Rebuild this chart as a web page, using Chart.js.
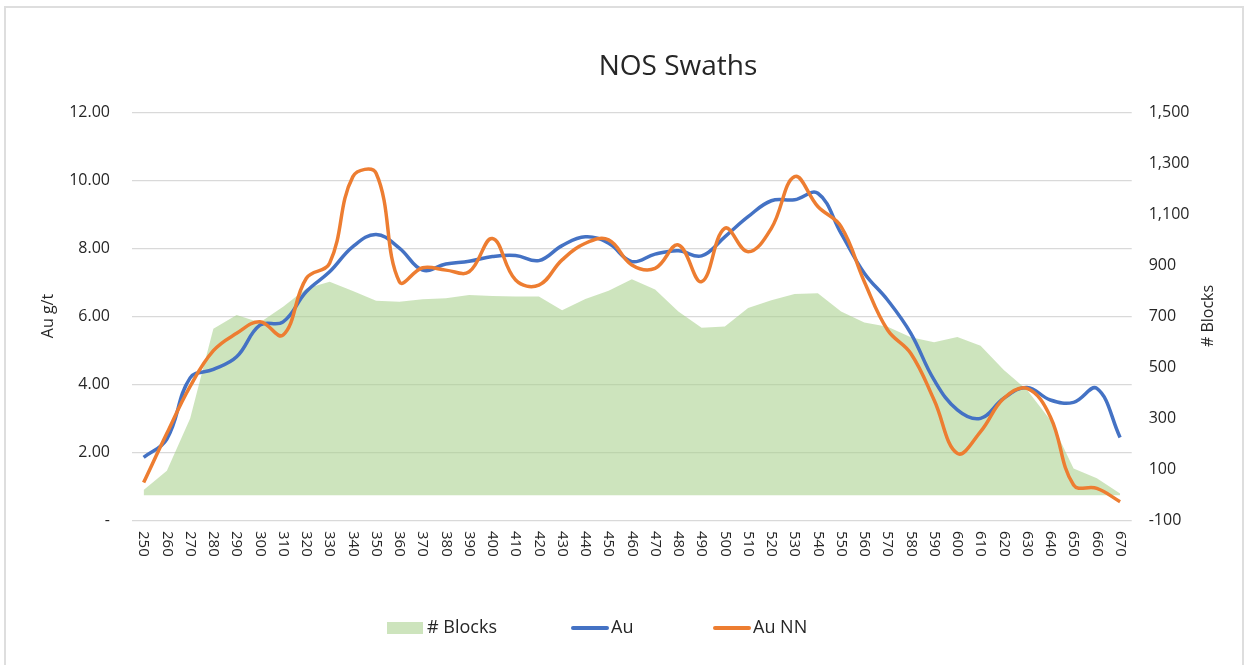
<!DOCTYPE html>
<html>
<head>
<meta charset="utf-8">
<script src="https://cdn.jsdelivr.net/npm/chart.js@4.4.0/dist/chart.umd.min.js"></script>
<style>
    body { margin:0; background:#fff; overflow:hidden; }
    .frame { position:absolute; left:4px; top:6px; width:1240px; height:700px; border:2px solid #dedede; box-sizing:border-box; }
    .wrap { position:absolute; left:0; top:0; width:1249px; height:665px; }
</style>
</head>
<body>
<div class="frame"></div>
<div class="wrap"><canvas id="swathChart"></canvas></div>
<script>
// ── Data ──
const categories = ['250','260','270','280','290','300','310','320','330','340','350','360','370','380','390','400','410','420','430','440','450','460','470','480','490','500','510','520','530','540','550','560','570','580','590','600','610','620','630','640','650','660','670'];
const blocks = [20, 96, 301, 653, 707, 677, 739, 811, 837, 801, 763, 759, 768, 772, 785, 781, 779, 779, 725, 769, 802, 847, 807, 720, 657, 662, 734, 765, 789, 792, 720, 677, 661, 619, 600, 620, 586, 491, 413, 295, 105, 66, 7];
const au = [1.86, 2.4, 4.2, 4.45, 4.82, 5.75, 5.85, 6.74, 7.32, 8.06, 8.42, 8.02, 7.37, 7.55, 7.63, 7.77, 7.8, 7.65, 8.09, 8.35, 8.16, 7.62, 7.84, 7.94, 7.79, 8.35, 8.94, 9.41, 9.44, 9.63, 8.45, 7.28, 6.49, 5.51, 4.14, 3.26, 3.01, 3.6, 3.92, 3.55, 3.48, 3.89, 2.45];
const auNN = [1.12, 2.57, 3.95, 5.0, 5.51, 5.85, 5.46, 7.13, 7.57, 10.12, 10.22, 7.03, 7.44, 7.37, 7.32, 8.3, 7.08, 6.93, 7.67, 8.16, 8.26, 7.52, 7.42, 8.11, 7.03, 8.6, 7.91, 8.6, 10.12, 9.24, 8.65, 7.03, 5.61, 4.92, 3.55, 1.98, 2.62, 3.6, 3.89, 3.06, 1.05, 0.95, 0.56];
const leftTicks = [0, 2, 4, 6, 8, 10, 12];
const rightTicks = [-100, 100, 300, 500, 700, 900, 1100, 1300, 1500];

const FONT = '"Open Sans", "DejaVu Sans", sans-serif';
const TEXT = '#262626';
const BLOCK_FILL = 'rgba(169,209,142,0.58)';
const AU_BLUE = '#4472c4';
const AU_ORANGE = '#ed7d31';

// ── Text that Chart.js can't place like Excel does ──
const excelText = {
    id: 'excelText',
    afterDraw(chart) {
        const { ctx, scales: { x } } = chart;
        ctx.save();
        ctx.fillStyle = TEXT;

        // title
        ctx.font = `28px ${FONT}`;
        ctx.textAlign = 'center';
        ctx.textBaseline = 'middle';
        ctx.fillText('NOS Swaths', 678, 67);

        // category labels, reading top to bottom
        ctx.font = `15px ${FONT}`;
        ctx.textAlign = 'left';
        categories.forEach((lab, i) => {
            ctx.save();
            ctx.translate(x.getPixelForValue(i), 531);
            ctx.rotate(Math.PI / 2);
            ctx.fillText(lab, 0, 0);
            ctx.restore();
        });

        // axis titles
        ctx.font = `16px ${FONT}`;
        ctx.textAlign = 'center';
        [['Au g/t', 48], ['# Blocks', 1208]].forEach(([t, px]) => {
            ctx.save();
            ctx.translate(px, 316);
            ctx.rotate(-Math.PI / 2);
            ctx.fillText(t, 0, 0);
            ctx.restore();
        });

        // legend
        ctx.font = `18px ${FONT}`;
        ctx.textAlign = 'left';
        ctx.fillStyle = BLOCK_FILL;
        ctx.fillRect(387, 622, 36, 12);
        ctx.lineWidth = 4;
        ctx.lineCap = 'round';
        [[AU_BLUE, 573, 607], [AU_ORANGE, 715, 749]].forEach(([c, a, b]) => {
            ctx.strokeStyle = c;
            ctx.beginPath();
            ctx.moveTo(a, 628);
            ctx.lineTo(b, 628);
            ctx.stroke();
        });
        ctx.fillStyle = TEXT;
        ctx.fillText('# Blocks', 427, 628);
        ctx.fillText('Au', 611, 628);
        ctx.fillText('Au NN', 753, 628);
        ctx.restore();
    }
};

const ctx = document.getElementById('swathChart').getContext('2d');
new Chart(ctx, {
    type: 'line',
    data: {
        labels: categories,
        datasets: [
            {
                label: '# Blocks',
                data: blocks,
                yAxisID: 'yBlocks',
                fill: 'origin',
                backgroundColor: BLOCK_FILL,
                borderWidth: 0,
                borderColor: 'transparent',
                pointRadius: 0,
                tension: 0,
                order: 3
            },
            {
                label: 'Au',
                data: au,
                yAxisID: 'yAu',
                borderColor: AU_BLUE,
                borderWidth: 3.5,
                pointRadius: 0,
                tension: 0.4,
                fill: false,
                order: 2
            },
            {
                label: 'Au NN',
                data: auNN,
                yAxisID: 'yAu',
                borderColor: AU_ORANGE,
                borderWidth: 3.5,
                pointRadius: 0,
                tension: 0.4,
                fill: false,
                order: 1
            }
        ]
    },
    options: {
        responsive: true,
        maintainAspectRatio: false,
        animation: false,
        layout: { padding: { top: 112.7, left: 0, right: 0, bottom: 0 } },
        plugins: {
            legend: { display: false },
            title: { display: false },
            tooltip: { enabled: false }
        },
        scales: {
            x: {
                offset: true,
                grid: { display: false },
                border: { display: false },
                ticks: { display: false },
                afterFit: s => { s.height = 665 - 520.7; }
            },
            yAu: {
                position: 'left',
                min: 0,
                max: 12,
                afterBuildTicks: s => { s.ticks = leftTicks.map(v => ({ value: v })); },
                ticks: {
                    padding: 22,
                    color: TEXT,
                    font: { family: FONT, size: 16 },
                    callback: v => v === 0 ? '-' : v.toFixed(2)
                },
                grid: { color: '#d9d9d9', lineWidth: 1.3, drawTicks: false },
                border: { display: false },
                afterFit: s => { s.width = 132; }
            },
            yBlocks: {
                position: 'right',
                min: -100,
                max: 1500,
                afterBuildTicks: s => { s.ticks = rightTicks.map(v => ({ value: v })); },
                ticks: {
                    padding: 17,
                    color: TEXT,
                    font: { family: FONT, size: 16 },
                    callback: v => v.toLocaleString('en-US')
                },
                grid: { display: false, drawTicks: false },
                border: { display: false },
                afterFit: s => { s.width = 1249 - 1131.7; }
            }
        }
    },
    plugins: [excelText]
});
</script>
</body>
</html>
